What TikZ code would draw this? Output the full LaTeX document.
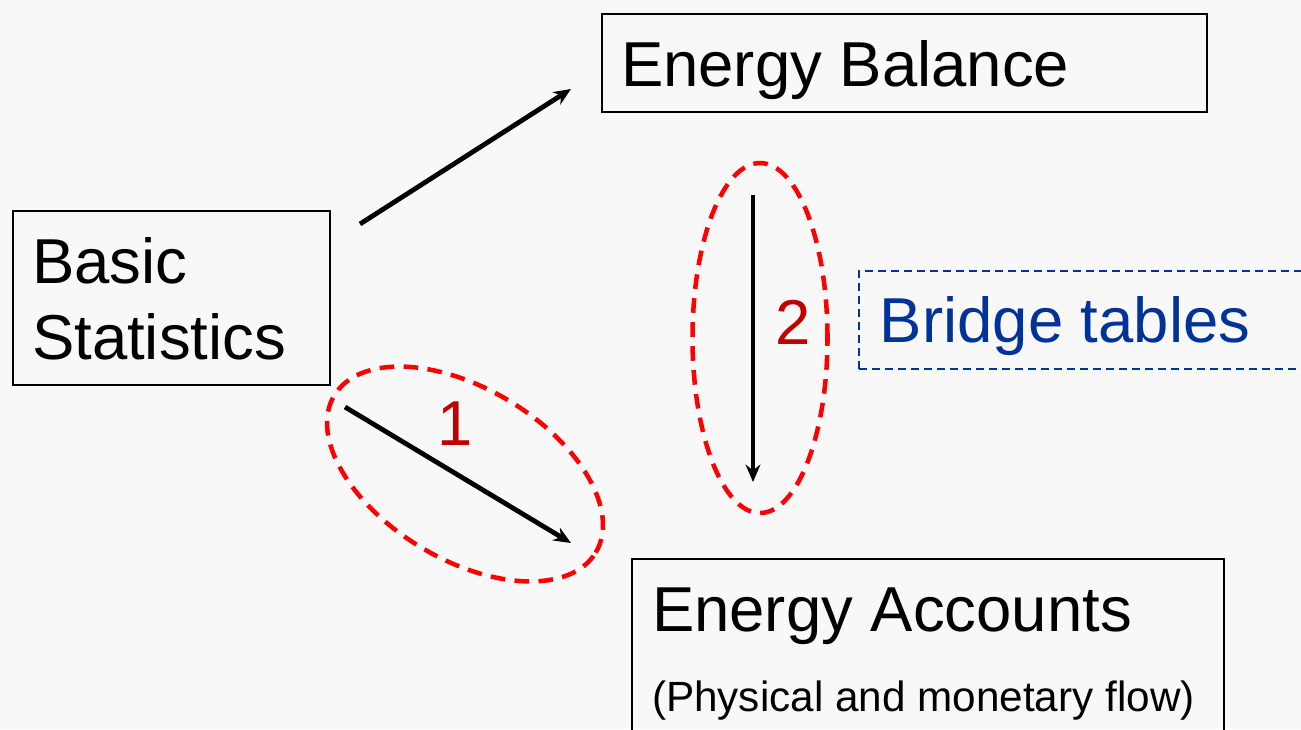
\documentclass[tikz,border=0pt]{standalone}
\usepackage{fontspec}
\setmainfont{Liberation Sans}
\usetikzlibrary{positioning,arrows.meta,shapes}
\definecolor{bggrey}{HTML}{F8F8F8}
\definecolor{ringred}{HTML}{FF0000}
\definecolor{numred}{HTML}{C00000}
\definecolor{bridgeblue}{HTML}{003399}
\newcommand{\boxfont}{\fontsize{47.6}{57}\selectfont}
\newcommand{\notefont}{\fontsize{31.7}{38}\selectfont}

\begin{document}
\begin{tikzpicture}[x=0.75pt, y=-0.75pt, >={Stealth[width=11pt,length=13pt]}, box/.style={draw, line width=1.6pt, anchor=north west, align=flush left, inner ysep=0pt, inner xsep=14.25pt, text height=54pt, font=\boxfont}, ring/.style={ellipse, draw=ringred, line width=3.4pt, dash pattern=on 11pt off 7pt, inner sep=0pt}, num/.style={text=numred, font=\boxfont, inner sep=0pt}]
	\useasboundingbox (0,0) rectangle (1301,729);
	\fill[bggrey] (0,0) rectangle (1301,729);
	\clip (0,0) rectangle (1301,729);
	\draw (12,210)node[box, text width=209.25pt, text depth=76.5pt](basic){Basic\\Statistics};
	\draw (601,13)node[box, text width=425.25pt, text depth=19.5pt](balance){Energy Balance};
	\draw (631,558)node[box, inner xsep=15pt, text width=414pt, text depth=135pt](accounts){Energy Accounts\\[3pt]\mbox{\notefont(Physical and monetary flow)}};
	\draw (858,270)node[box, draw=bridgeblue, text=bridgeblue, line width=1.3pt, dash pattern=on 6pt off 3.75pt, inner xsep=15.75pt, text width=400pt, text depth=19.5pt](bridge){Bridge tables};
	\draw (465,474)node[ring, minimum width=228.75pt, minimum height=128.25pt, rotate=-31](ring1){};
	\draw (760,338)node[ring, minimum width=101.25pt, minimum height=262.5pt](ring2){};
	\coordinate (up0) at (360,224);
	\coordinate (up1) at (571,89);
	\coordinate (down0) at (345,407);
	\coordinate (down1) at (571,543);
	\coordinate (mid0) at (753,195);
	\coordinate (mid1) at (753,482);
	\path[->, line width=3.6pt] (up0) edge (up1);
	\path[->, line width=3.6pt] (down0) edge node[num, above=20pt, xshift=-2pt]{1}(down1);
	\path[->, line width=3pt] (mid0) edge node[num, pos=0.52, anchor=base west, xshift=15pt]{2}(mid1);
	\end{tikzpicture}
\end{document}
